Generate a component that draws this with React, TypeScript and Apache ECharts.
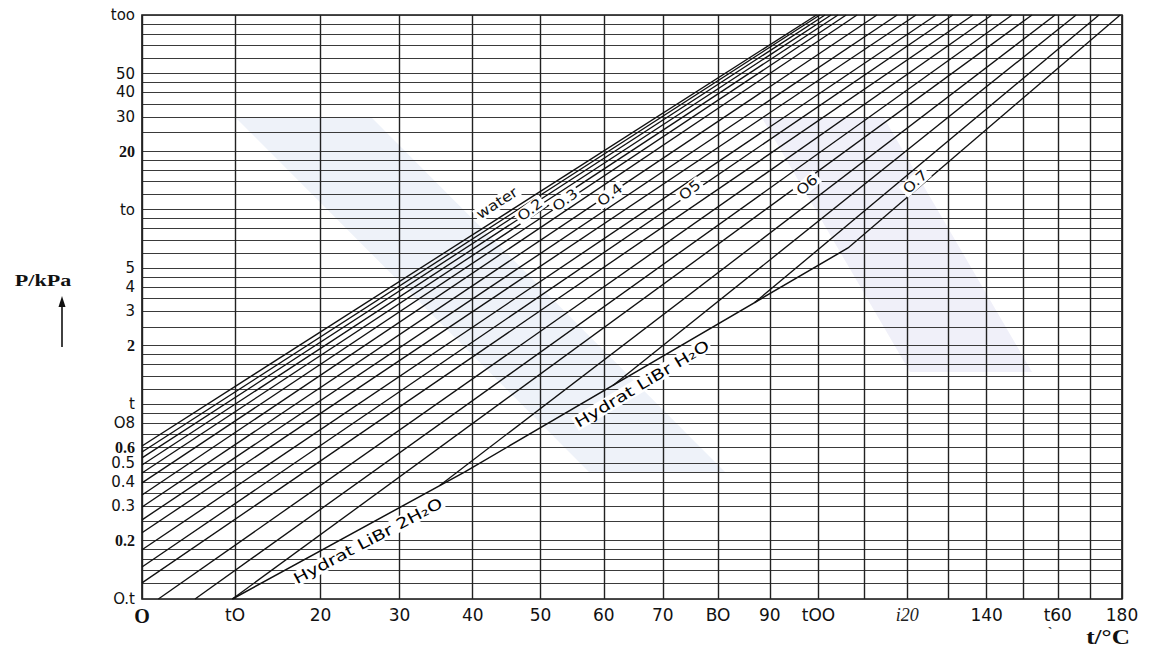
import React, { useEffect, useRef } from "react";
import * as echarts from "echarts";

// Temperature axis of the chart is scaled as -1/(t+230); pressure axis is log10.
const T_OFFSET = 230;
const T_MAX = 180;
const X = (t: number) =>
  ((1 / T_OFFSET - 1 / (t + T_OFFSET)) / (1 / T_OFFSET - 1 / (T_MAX + T_OFFSET))) * T_MAX;
const L = (p: number) => Math.round(Math.log10(p) * 1e9) / 1e9;

// ---- axes
const xTickValues = [0, 10, 20, 30, 40, 50, 60, 70, 80, 90, 100, 120, 140, 160, 180];
const xTickLabels = ["O", "tO", "20", "30", "40", "50", "60", "70", "BO", "90", "tOO", "i20", "140", "t60", "180"];
const xBoldLabels = ["O"];
const xItalicLabels = ["i20"];
const xGridValues = [0, 10, 20, 30, 40, 50, 60, 70, 80, 90, 100, 110, 120, 130, 140, 150, 160, 170, 180];

const yTickValues = [100, 50, 40, 30, 20, 10, 5, 4, 3, 2, 1, 0.8, 0.6, 0.5, 0.4, 0.3, 0.2, 0.1];
const yTickLabels = ["too", "50", "40", "30", "20", "to", "5", "4", "3", "2", "t", "O8", "0.6", "0.5", "0.4", "0.3", "0.2", "O.t"];
const yBoldLabels = ["20", "2", "0.6", "0.2"];
const yGridValues = [
  0.1, 0.12, 0.14, 0.16, 0.18, 0.2, 0.25, 0.3, 0.35, 0.4, 0.45, 0.5, 0.6, 0.7, 0.8, 0.9,
  1, 1.2, 1.4, 1.6, 1.8, 2, 2.5, 3, 3.5, 4, 4.5, 5, 6, 7, 8, 9,
  10, 12, 14, 16, 18, 20, 25, 30, 35, 40, 45, 50, 60, 70, 80, 90, 100,
];

// ---- iso-concentration lines (straight in this chart): start / end points (t in °C, P in kPa)
const curveNames = ["water", "0.1", "0.15", "0.2", "0.25", "0.3", "0.35", "0.4", "0.425", "0.45", "0.475", "0.5", "0.525", "0.55", "0.575", "0.6", "0.625", "0.65", "0.675", "0.7"];
const curveStartT = [0, 0, 0, 0, 0, 0, 0, 0, 0, 0, 0, 0, 0, 1.7, 5.6, 9.7, 35.4, 61.5, 87.0, 106.4];
const curveStartP = [0.611, 0.569, 0.531, 0.488, 0.444, 0.395, 0.342, 0.297, 0.255, 0.219, 0.179, 0.146, 0.121, 0.1, 0.1, 0.1, 0.383, 1.25, 3.33, 6.36];
const curveEndT = [99.6, 100.3, 101.4, 102.7, 104.2, 106.0, 108.4, 112.9, 117.6, 122.1, 127.0, 131.2, 136.4, 141.4, 146.9, 152.5, 159.2, 165.5, 172.6, 179.4];
const curveEndP = [100, 100, 100, 100, 100, 100, 100, 100, 100, 100, 100, 100, 100, 100, 100, 100, 100, 100, 100, 100];

// ---- crystallisation (hydrate) boundary
const hydrateT = [9.7, 38.9, 106.4];
const hydrateP = [0.1, 0.45, 6.36];

// ---- in-chart labels
const curveLabelTexts = ["water", "O.2", "O.3", "O.4", "O5", "O6", "O.7"];
const curveLabelT = [43.5, 48.4, 53.8, 61.0, 74.8, 97.6, 121.9];
const curveLabelP = [10.8, 9.97, 11.2, 11.9, 12.6, 13.4, 13.9];
const curveLabelAngle = [33, 37, 37, 38, 39, 41, 42];

const hydrateLabelTexts = ["Hydrat LiBr 2H\u2082O", "Hydrat LiBr H\u2082O"];
const hydrateLabelT = [25.9, 66.4];
const hydrateLabelP = [0.1988, 1.273];
const hydrateLabelAngle = [28, 31];

export default function App() {
  const ref = useRef<HTMLDivElement>(null);

  useEffect(() => {
    if (!ref.current) return;
    const chart = echarts.init(ref.current, undefined, { renderer: "svg" });
    const xPos = xTickValues.map(X);
    const yPos = yTickValues.map(L);

    const sans = "DejaVu Sans";
    const serif = "Liberation Serif";

    const series: any[] = [
      {
        type: "lines",
        coordinateSystem: "cartesian2d",
        silent: true,
        z: 1,
        lineStyle: { color: "#3a3a3a", width: 1, opacity: 1 },
        data: yGridValues.map((p) => ({ coords: [[X(0), L(p)], [X(T_MAX), L(p)]] })),
      },
      {
        type: "lines",
        coordinateSystem: "cartesian2d",
        silent: true,
        z: 1,
        lineStyle: { color: "#222", width: 1.4, opacity: 1 },
        data: xGridValues.map((t) => ({ coords: [[X(t), L(0.1)], [X(t), L(100)]] })),
      },
      ...curveNames.map((name, i) => ({
        type: "line",
        name,
        silent: true,
        symbol: "none",
        z: 3,
        lineStyle: { color: "#111", width: 1.35 },
        data: [
          [X(curveStartT[i]), L(curveStartP[i])],
          [X(curveEndT[i]), L(curveEndP[i])],
        ],
      })),
      {
        type: "line",
        name: "Hydrat",
        silent: true,
        symbol: "none",
        z: 3,
        lineStyle: { color: "#111", width: 1.5 },
        data: hydrateT.map((t, i) => [X(t), L(hydrateP[i])]),
      },
    ];

    const option: any = {
      animation: false,
      backgroundColor: "#ffffff",
      grid: {
        left: 142,
        right: 35,
        top: 15,
        bottom: 54,
        show: true,
        borderColor: "#111",
        borderWidth: 1.6,
        backgroundColor: "rgba(0,0,0,0)",
      },
      xAxis: {
        type: "value",
        min: 0,
        max: T_MAX,
        axisLine: { show: false },
        axisTick: { show: false },
        splitLine: { show: false },
        axisLabel: {
          customValues: xPos,
          margin: 7,
          color: "#111",
          formatter: (v: number) => {
            const i = xPos.findIndex((p) => Math.abs(p - v) < 1e-6);
            if (i < 0) return "";
            const s = xTickLabels[i];
            const k = xBoldLabels.includes(s) ? "b" : xItalicLabels.includes(s) ? "i" : "n";
            return `{${k}|${s}}`;
          },
          rich: {
            n: { fontFamily: sans, fontSize: 17, color: "#111" },
            b: { fontFamily: serif, fontSize: 20, fontWeight: "bold", color: "#111" },
            i: { fontFamily: serif, fontSize: 18, fontStyle: "italic", color: "#222" },
          },
        },
      },
      yAxis: {
        type: "value",
        min: -1,
        max: 2,
        axisLine: { show: false },
        axisTick: { show: false },
        splitLine: { show: false },
        axisLabel: {
          customValues: yPos,
          margin: 7,
          color: "#111",
          formatter: (v: number) => {
            const i = yPos.findIndex((p) => Math.abs(p - v) < 1e-6);
            if (i < 0) return "";
            const s = yTickLabels[i];
            const k = yBoldLabels.includes(s) ? "b" : "n";
            return `{${k}|${s}}`;
          },
          rich: {
            n: { fontFamily: sans, fontSize: 15, lineHeight: 14, color: "#111" },
            b: { fontFamily: serif, fontSize: 16, lineHeight: 14, fontWeight: "bold", color: "#111" },
          },
        },
      },
      series,
    };

    chart.setOption(option);

    const toPx = (t: number, p: number) =>
      chart.convertToPixel({ gridIndex: 0 }, [X(t), L(p)]) as number[];

    const elements: any[] = [
      {
        type: "polygon",
        z: -10,
        silent: true,
        shape: { points: [[236, 118], [372, 118], [725, 472], [589, 472]] },
        style: { fill: "#eef2f9" },
      },
      {
        type: "polygon",
        z: -10,
        silent: true,
        shape: { points: [[762, 118], [884, 118], [1032, 372], [910, 372]] },
        style: { fill: "#f0f0f9" },
      },
    ];

    curveLabelTexts.forEach((text, i) => {
      const [px, py] = toPx(curveLabelT[i], curveLabelP[i]);
      elements.push({
        type: "text",
        z: 100,
        x: px,
        y: py,
        rotation: (curveLabelAngle[i] * Math.PI) / 180,
        scaleX: 1.15,
        silent: true,
        style: {
          text,
          fontFamily: sans,
          fontSize: 14,
          fill: "#111",
          align: "center",
          verticalAlign: "middle",
          backgroundColor: "#ffffff",
          padding: [0, 2],
        },
      });
    });

    hydrateLabelTexts.forEach((text, i) => {
      const [px, py] = toPx(hydrateLabelT[i], hydrateLabelP[i]);
      elements.push({
        type: "text",
        z: 100,
        x: px,
        y: py,
        rotation: (hydrateLabelAngle[i] * Math.PI) / 180,
        scaleX: 1.3,
        silent: true,
        style: {
          text,
          fontFamily: sans,
          fontSize: 15,
          fill: "#000",
          align: "center",
          verticalAlign: "middle",
          backgroundColor: "#ffffff",
          padding: [0, 1],
        },
      });
    });

    elements.push(
      {
        type: "text",
        z: 100,
        x: 43,
        y: 280,
        scaleX: 1.3,
        silent: true,
        style: {
          text: "P/kPa",
          fontFamily: serif,
          fontWeight: "bold",
          fontSize: 17,
          fill: "#111",
          align: "center",
          verticalAlign: "middle",
        },
      },
      {
        type: "line",
        z: 100,
        silent: true,
        shape: { x1: 62, y1: 347, x2: 62, y2: 304 },
        style: { stroke: "#111", lineWidth: 1.6 },
      },
      {
        type: "polygon",
        z: 100,
        silent: true,
        shape: { points: [[58.5, 307], [65.5, 307], [62, 296]] },
        style: { fill: "#111" },
      },
      {
        type: "text",
        z: 100,
        x: 1108,
        y: 637,
        scaleX: 1.2,
        silent: true,
        style: {
          text: "t/\u00B0C",
          fontFamily: serif,
          fontWeight: "bold",
          fontSize: 21,
          fill: "#111",
          align: "center",
          verticalAlign: "middle",
        },
      },
      {
        type: "text",
        z: 100,
        x: 1050,
        y: 632,
        silent: true,
        style: {
          text: "`",
          fontFamily: serif,
          fontWeight: "bold",
          fontSize: 14,
          fill: "#333",
          align: "center",
          verticalAlign: "middle",
        },
      }
    );

    chart.setOption({ graphic: { elements } });

    return () => {
      chart.dispose();
    };
  }, []);

  return (
    <div
      ref={ref}
      style={{ position: "fixed", left: 0, top: 0, width: "1157px", height: "653px", background: "#fff" }}
    />
  );
}
